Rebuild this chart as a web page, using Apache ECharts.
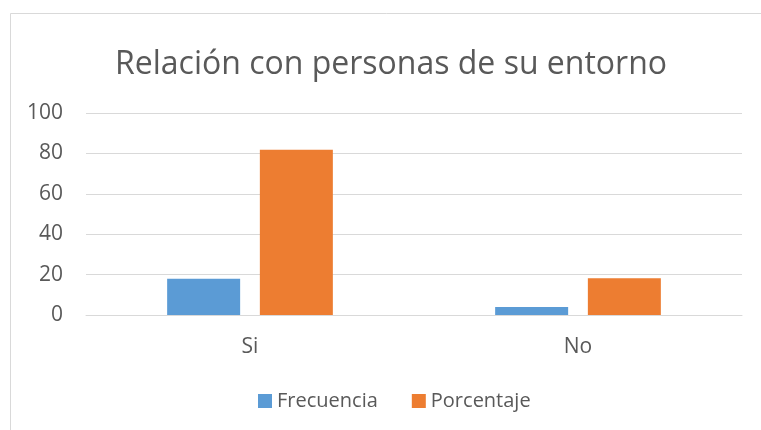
<!DOCTYPE html>
<html><head><meta charset="utf-8">
<script src="https://cdn.jsdelivr.net/npm/echarts@6/dist/echarts.min.js"></script>
<style>html,body{margin:0;padding:0;background:#fff}#c{width:761px;height:430px}</style>
</head><body><div id="c"></div>
<script>
const categories = ['Si', 'No'];
const frecuencia = [18, 4];
const porcentaje = [81.8, 18.2];
const seriesNames = ['Frecuencia', 'Porcentaje'];
const titleText = 'Relación con personas de su entorno';

const FONT = '"Open Sans", sans-serif';
const chart = echarts.init(document.getElementById('c'));
chart.setOption({
  animation: false,
  backgroundColor: '#fff',
  graphic: [{type:'rect', shape:{x:10.5, y:13.5, width:800, height:500}, style:{fill:'none', stroke:'#d9d9d9', lineWidth:1}, silent:true}],
  title: {text: titleText, left: 110, top: 44, textStyle:{fontFamily: FONT, fontSize: 32, fontWeight: 'normal', color:'#595959'}},
  legend: {data: seriesNames, top: 386, left: 253, itemWidth: 14, itemHeight: 14, itemGap: 34, icon: 'rect',
    textStyle:{fontFamily: FONT, fontSize: 20, color:'#595959'}},
  grid: {left: 86, right: 19, top: 113, bottom: 115},
  xAxis: {type:'category', data: categories, axisLine:{lineStyle:{color:'#d9d9d9'}}, axisTick:{show:false},
    axisLabel:{fontFamily: FONT, fontSize: 21, color:'#595959', margin: 22}},
  yAxis: {type:'value', min:0, max:100, interval:20, axisLine:{show:false}, axisTick:{show:false},
    splitLine:{lineStyle:{color:'#d9d9d9'}}, axisLabel:{fontFamily: FONT, fontSize: 21, color:'#595959', margin: 23}},
  series: [
    {name: seriesNames[0], type:'bar', data: frecuencia, barWidth: 73, barGap: '27%', itemStyle:{color:'#5b9bd5'}},
    {name: seriesNames[1], type:'bar', data: porcentaje, barWidth: 73, barGap: '27%', itemStyle:{color:'#ed7d31'}}
  ]
});
</script></body></html>
